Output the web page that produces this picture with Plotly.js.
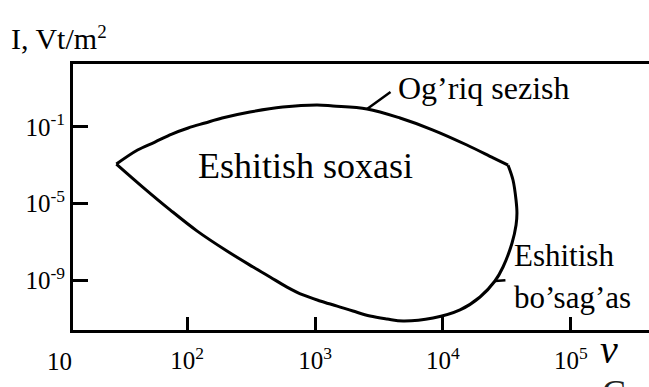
<!DOCTYPE html>
<html>
<head>
<meta charset="utf-8">
<script src="https://cdn.plot.ly/plotly-3.0.1.min.js"></script>
<style>
  html, body { margin: 0; padding: 0; background: #fff; }
  #wrap { position: relative; width: 649px; height: 387px; overflow: hidden; }
  #chart { width: 649px; height: 387px; }
</style>
</head>
<body>
<div id="wrap">
  <div id="ytitle" style="position:absolute; left:11px; top:17px; font-size:30px; line-height:30px; font-family:'Liberation Serif'; color:#000; z-index:5; white-space:nowrap;"></div>
  <div id="chart"></div>
  <span id="caption" style="position:absolute; left:602px; top:375px; font-size:36px; line-height:36px; font-family:'Liberation Serif'; color:#222; z-index:5;">C</span>
</div>
<script>
// Upper boundary of the hearing region: threshold of pain (frequency in Hz, intensity in W/m^2)
const painFreq = [28, 41, 56, 76, 102, 138, 188, 310, 560, 1040, 1380, 2550, 4620, 8370, 15400, 24700, 32300];
const painI    = [1.15e-3, 6.2e-3, 1.6e-2, 4.2e-2, 8.7e-2, 0.158, 0.287, 0.59, 1.07, 1.37, 1.21, 0.85, 0.287, 0.068, 0.0113, 2.4e-3, 1.0e-3];

// Lower boundary: threshold of hearing, from the high-frequency end back to the low-frequency tip
const thresholdFreq = [32300, 35300, 37300, 37900, 37300, 34700, 29500, 25500, 19500, 13600, 8370, 4880, 3660,
                       2690, 1980, 1490, 1095, 806, 604, 445, 328, 205, 120, 74, 45, 28];
const thresholdI    = [1.0e-3, 1.7e-4, 1.5e-5, 3.2e-6, 7.7e-7, 8.9e-8, 5.0e-9, 9.3e-10, 1.37e-10, 2.9e-11, 1.1e-11, 7.7e-12, 9.8e-12,
                       1.4e-11, 2.55e-11, 4.6e-11, 8.5e-11, 1.74e-10, 4.5e-10, 1.5e-9, 5.0e-9, 3.4e-8, 3.7e-7, 4.6e-6, 7.3e-5, 1.15e-3];

// Axis ticks
const xTickVals = [1e2, 1e3, 1e4, 1e5];
const xTickText = ['10<sup>2</sup>', '10<sup>3</sup>', '10<sup>4</sup>', '10<sup>5</sup>'];
const yTickVals = [1e-1, 1e-5, 1e-9];
const yTickText = ['10<sup>-1</sup>', '10<sup>-5</sup>', '10<sup>-9</sup>'];

// Text (Greek nu and typographic apostrophes written as escapes)
const yTitleMain = 'I, Vt/m';
const yTitleSup = '2';
const xTitle = '\u03BD';
const xFirstLabel = '10';
const regionLabel = 'Eshitish soxasi';
const painLabel = 'Og\u2019riq sezish';
const thresholdLabel1 = 'Eshitish';
const thresholdLabel2 = 'bo\u2019sag\u2019as';

// intensity axis title, set above the plot area
const yt = document.getElementById('ytitle');
yt.appendChild(document.createTextNode(yTitleMain));
const sup = document.createElement('span');
sup.setAttribute('style', 'font-size:19px; vertical-align:11px;');
sup.textContent = yTitleSup;
yt.appendChild(sup);

const SERIF = 'Liberation Serif';
const W = 649, H = 387;
const M = {l: 73, r: 0, t: 64, b: 57};
const PW = W - M.l - M.r, PH = H - M.t - M.b;
const fx = p => (p - M.l) / PW;          // pixel column -> paper x
const fy = p => (H - M.b - p) / PH;      // pixel row -> paper y

const curveLine = {color: '#000', width: 3, shape: 'spline', smoothing: 1};

const traces = [
  {x: painFreq, y: painI, mode: 'lines', line: curveLine, hoverinfo: 'skip'},
  {x: thresholdFreq, y: thresholdI, mode: 'lines', line: curveLine, hoverinfo: 'skip'}
];

const txt = (text, x, y, size, extra) => Object.assign({
  text: text, xref: 'paper', yref: 'paper', x: fx(x), y: fy(y),
  xanchor: 'left', yanchor: 'middle', showarrow: false,
  font: {family: SERIF, size: size, color: '#000'}
}, extra || {});

// leader line from a label to a point of a curve (annotation coordinates are log10 on log axes)
const leader = (fx_, fi, ax, ay) => ({
  text: '', x: Math.log10(fx_), y: Math.log10(fi), xref: 'x', yref: 'y',
  showarrow: true, arrowhead: 0, arrowwidth: 2.5, arrowcolor: '#000', ax: ax, ay: ay, standoff: 0
});

const annotations = [
  txt(regionLabel, 196, 166, 36),
  txt(painLabel, 396, 88, 32),
  txt(thresholdLabel1, 512, 255, 31),
  txt(thresholdLabel2, 512, 297, 31),
  txt(xFirstLabel, 59, 361, 25, {xanchor: 'center'}),
  txt(xTitle, 598, 349, 40, {font: {family: SERIF, size: 40, color: '#000', style: 'italic'}}),
  leader(painFreq[11], painI[11], 25, -18),
  leader(thresholdFreq[7], thresholdI[7], 12, -1)
];

const layout = {
  width: W, height: H,
  margin: M,
  paper_bgcolor: '#fff', plot_bgcolor: '#fff',
  showlegend: false,
  xaxis: {
    type: 'log', range: [1.108, 5.611],
    showgrid: false, zeroline: false,
    showline: true, linecolor: '#000', linewidth: 3, mirror: true,
    ticks: 'inside', ticklen: 13, tickwidth: 3, tickcolor: '#000',
    tickvals: xTickVals, ticktext: xTickText,
    tickfont: {family: SERIF, size: 25, color: '#000'},
    ticklabelstandoff: 6
  },
  yaxis: {
    type: 'log', range: [-11.583, 2.271],
    showgrid: false, zeroline: false,
    showline: true, linecolor: '#000', linewidth: 3, mirror: false,
    ticks: 'inside', ticklen: 15, tickwidth: 3, tickcolor: '#000',
    tickvals: yTickVals, ticktext: yTickText,
    tickfont: {family: SERIF, size: 25, color: '#000'}
  },
  annotations: annotations
};

Plotly.newPlot('chart', traces, layout, {staticPlot: true, displayModeBar: false});
</script>
</body>
</html>
